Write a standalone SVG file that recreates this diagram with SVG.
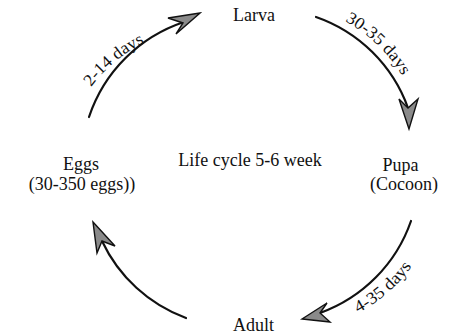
<svg xmlns="http://www.w3.org/2000/svg" width="451" height="335" viewBox="0 0 451 335">
<style>
.lbl{font-family:"Liberation Serif","Times New Roman",serif;font-size:18px;fill:#111;text-anchor:middle}
.dur{font-family:"Liberation Serif","Times New Roman",serif;font-size:17px;fill:#111}
.arc{fill:none;stroke:#111;stroke-width:2.2;stroke-linecap:round}
.head{fill:#8a8a8a;stroke:#111;stroke-width:1.4;stroke-linejoin:miter}
</style>
<defs>
<path id="t1" d="M 91 87 A 150 150 0 0 1 150 40"/>
<path id="t2" d="M 345 21 A 150 150 0 0 1 404 79"/>
<path id="t3" d="M 358 313 A 150 150 0 0 0 414 263"/>
</defs>
<rect width="451" height="335" fill="#fff"/>
<g id="connectors">
<path class="arc" d="M 89 117 A 150 150 0 0 1 184 22"/>
<polygon class="head" points="200,13 168,18 183,23 176,34"/>
<path class="arc" d="M 316 17 A 150 150 0 0 1 408 108"/>
<polygon class="head" points="409,129 399,99 408,108 418,99"/>
<path class="arc" d="M 411 221 A 150 150 0 0 1 320 313"/>
<polygon class="head" points="302,319 327,303 320,313 330,322"/>
<path class="arc" d="M 186 318 A 150 150 0 0 1 102 241"/>
<polygon class="head" points="93,222 115,246 102,241 97,253"/>
<text class="dur"><textPath href="#t1" textLength="70" lengthAdjust="spacingAndGlyphs">2-14 days</textPath></text>
<text class="dur"><textPath href="#t2" textLength="80" lengthAdjust="spacingAndGlyphs">30-35 days</textPath></text>
<text class="dur"><textPath href="#t3" textLength="72" lengthAdjust="spacingAndGlyphs">4-35 days</textPath></text>
</g>
<g id="larva"><text class="lbl" x="254" y="21">Larva</text></g>
<g id="pupa"><text class="lbl" x="400.5" y="171">Pupa</text><text class="lbl" x="404" y="190">(Cocoon)</text></g>
<g id="adult"><text class="lbl" x="253.5" y="331">Adult</text></g>
<g id="eggs"><text class="lbl" x="81" y="170">Eggs</text><text class="lbl" x="82" y="190">(30-350 eggs))</text></g>
<g id="center"><text class="lbl" x="250" y="166">Life cycle 5-6 week</text></g>
</svg>
